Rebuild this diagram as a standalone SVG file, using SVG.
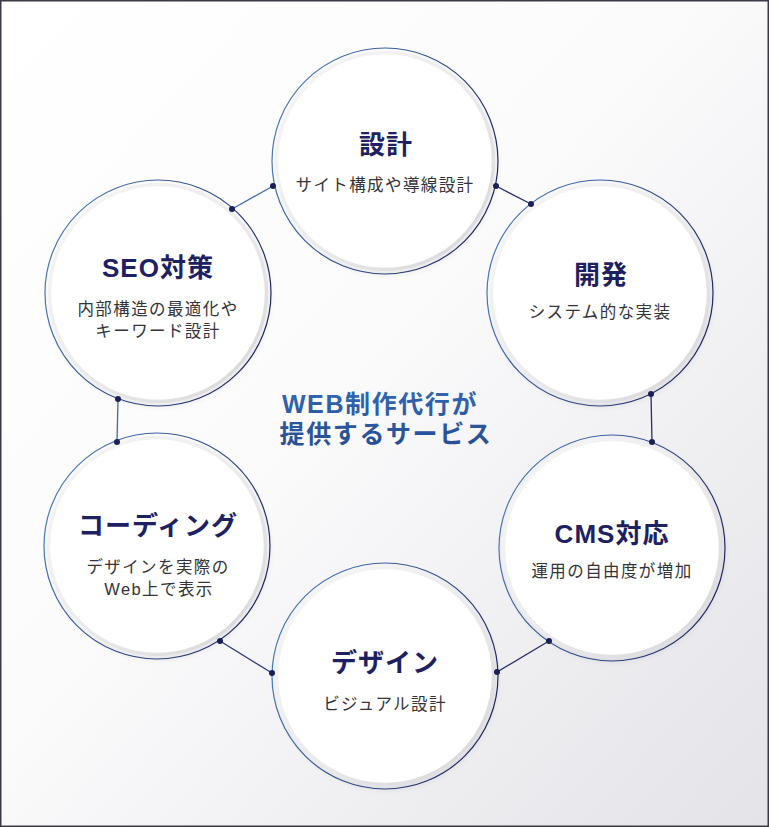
<svg xmlns="http://www.w3.org/2000/svg" width="769" height="827" viewBox="0 0 769 827">
  <style>
    .title { font-family: "Liberation Sans", "Noto Sans CJK JP", sans-serif; font-weight: 700; font-size: 26px; fill: #1e2161; text-anchor: middle; letter-spacing: 1px; }
    .sub { font-family: "Liberation Sans", "Noto Sans CJK JP", sans-serif; font-weight: 400; font-size: 16.5px; fill: #333338; text-anchor: middle; letter-spacing: 1.4px; }
    .center { font-family: "Liberation Sans", "Noto Sans CJK JP", sans-serif; font-weight: 700; font-size: 25px; fill: url(#centerGrad); text-anchor: middle; letter-spacing: 1.6px; }
    .ring { fill: none; stroke: url(#ringGrad); stroke-width: 1.2; }
    .disk { fill: #ffffff; stroke: url(#diskGrad); stroke-width: 3.5; }
    .conn { stroke-width: 1.3; fill: none; }
    .dot { fill: #1b1f57; }
  </style>
  <defs>
    <linearGradient id="bg" x1="0" y1="0" x2="1" y2="1">
      <stop offset="0" stop-color="#ffffff"/>
      <stop offset="0.45" stop-color="#fbfbfc"/>
      <stop offset="1" stop-color="#e3e3e8"/>
    </linearGradient>
    <linearGradient id="ringGrad" x1="0" y1="0.3" x2="1" y2="0.7">
      <stop offset="0" stop-color="#4a7cc0"/>
      <stop offset="0.5" stop-color="#34508f"/>
      <stop offset="1" stop-color="#1f2461"/>
    </linearGradient>
    <linearGradient id="diskGrad" x1="0" y1="0" x2="1" y2="1">
      <stop offset="0" stop-color="#f7f7f8"/>
      <stop offset="0.5" stop-color="#ececee"/>
      <stop offset="1" stop-color="#d6d6da"/>
    </linearGradient>
    <linearGradient id="centerGrad" x1="0" y1="0" x2="0" y2="1">
      <stop offset="0" stop-color="#3166b4"/>
      <stop offset="1" stop-color="#284d92"/>
    </linearGradient>
    <filter id="shadow" x="-20%" y="-20%" width="140%" height="140%">
      <feDropShadow dx="2" dy="3" stdDeviation="3" flood-color="#000000" flood-opacity="0.08"/>
    </filter>
  </defs>

  <rect x="0" y="0" width="769" height="827" fill="url(#bg)"/>
  <rect x="0.75" y="0.75" width="767.5" height="825.5" fill="none" stroke="#3a3a48" stroke-width="1.5"/>

  <g id="connectors">
    <line class="conn" x1="273" y1="186" x2="232" y2="209" stroke="#3f6aae"/>
    <line class="conn" x1="496" y1="186" x2="531" y2="204" stroke="#262c68"/>
    <line class="conn" x1="651" y1="394" x2="652" y2="442" stroke="#262c68"/>
    <line class="conn" x1="549" y1="641" x2="497" y2="672" stroke="#262c68"/>
    <line class="conn" x1="272" y1="673" x2="220" y2="641" stroke="#2e3a78"/>
    <line class="conn" x1="117" y1="442" x2="118" y2="399" stroke="#3f6aae"/>
  </g>

  <g id="node-sekkei">
    <circle class="ring" cx="385" cy="161" r="113"/>
    <circle class="disk" cx="385" cy="161" r="108.5" filter="url(#shadow)"/>
    <text class="title" x="386" y="154">設計</text>
    <text class="sub" x="385" y="191">サイト構成や導線設計</text>
  </g>

  <g id="node-kaihatsu">
    <circle class="ring" cx="600" cy="293" r="113"/>
    <circle class="disk" cx="600" cy="293" r="108.5" filter="url(#shadow)"/>
    <text class="title" x="601" y="284">開発</text>
    <text class="sub" x="600" y="318">システム的な実装</text>
  </g>

  <g id="node-cms">
    <circle class="ring" cx="612" cy="548" r="113"/>
    <circle class="disk" cx="612" cy="548" r="108.5" filter="url(#shadow)"/>
    <text class="title" x="612" y="543">CMS対応</text>
    <text class="sub" x="612" y="577">運用の自由度が増加</text>
  </g>

  <g id="node-design">
    <circle class="ring" cx="385" cy="676" r="113"/>
    <circle class="disk" cx="385" cy="676" r="108.5" filter="url(#shadow)"/>
    <text class="title" x="385" y="672">デザイン</text>
    <text class="sub" x="385" y="710">ビジュアル設計</text>
  </g>

  <g id="node-coding">
    <circle class="ring" cx="157" cy="546" r="113"/>
    <circle class="disk" cx="157" cy="546" r="108.5" filter="url(#shadow)"/>
    <text class="title" x="158" y="535">コーディング</text>
    <text class="sub" x="158" y="573">デザインを実際の</text>
    <text class="sub" x="159" y="595">Web上で表示</text>
  </g>

  <g id="node-seo">
    <circle class="ring" cx="158" cy="293" r="113"/>
    <circle class="disk" cx="158" cy="293" r="108.5" filter="url(#shadow)"/>
    <text class="title" x="158" y="277">SEO対策</text>
    <text class="sub" x="158" y="315">内部構造の最適化や</text>
    <text class="sub" x="158" y="337">キーワード設計</text>
  </g>

  <g id="dots">
    <circle class="dot" cx="273" cy="186" r="3"/>
    <circle class="dot" cx="232" cy="209" r="3"/>
    <circle class="dot" cx="496" cy="186" r="3"/>
    <circle class="dot" cx="531" cy="204" r="3"/>
    <circle class="dot" cx="651" cy="394" r="3"/>
    <circle class="dot" cx="652" cy="442" r="3"/>
    <circle class="dot" cx="549" cy="641" r="3"/>
    <circle class="dot" cx="497" cy="672" r="3"/>
    <circle class="dot" cx="272" cy="673" r="3"/>
    <circle class="dot" cx="220" cy="641" r="3"/>
    <circle class="dot" cx="117" cy="442" r="3"/>
    <circle class="dot" cx="118" cy="399" r="3"/>
  </g>

  <g id="center-label">
    <text class="center"><tspan x="380" y="413">WEB制作代行が</tspan><tspan x="386" y="443">提供するサービス</tspan></text>
  </g>
</svg>
